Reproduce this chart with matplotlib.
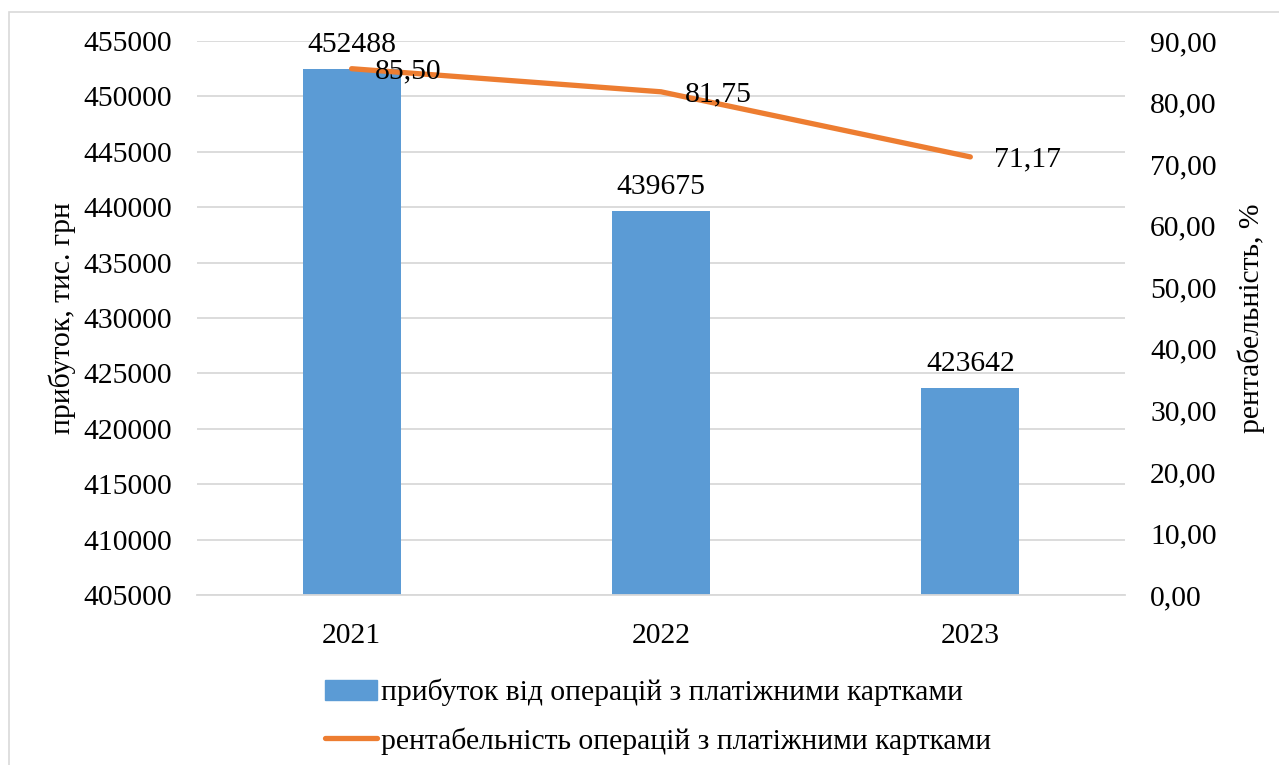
import matplotlib
matplotlib.use("Agg")
import matplotlib.pyplot as plt
from matplotlib.patches import Rectangle
from matplotlib.lines import Line2D
import numpy as np

years = ["2021", "2022", "2023"]
profit = [452488, 439675, 423642]
profitability = [85.50, 81.75, 71.17]
profit_ticks = list(range(405000, 455001, 5000))
pct_ticks = list(range(0, 91, 10))

bar_label = "прибуток від операцій з платіжними картками"
line_label = "рентабельність операцій з платіжними картками"

plt.rcParams['font.family'] = ['Liberation Serif', 'DejaVu Serif']
FS = 21.3

fig = plt.figure(figsize=(12.79, 7.65), dpi=100)
ax = fig.add_axes([0.154, 0.2222, 0.7256, 0.7242])
x = np.arange(len(years))
bars = ax.bar(x, profit, width=0.317, color="#5B9BD5", zorder=2)
ax.set_ylim(405000, 455000)
ax.set_xlim(-0.5, 2.5)
ax.set_yticks(profit_ticks)
ax.set_yticklabels([str(v) for v in profit_ticks], fontsize=FS)
ax.set_xticks(x)
ax.set_xticklabels(years, fontsize=FS)
ax.tick_params(axis='both', length=0)
ax.tick_params(axis='y', pad=18)
ax.tick_params(axis='x', pad=20)
ax.grid(axis='y', color="#D9D9D9", linewidth=1.3, zorder=0)
ax.set_axisbelow(True)
for s in ["top", "right", "left"]:
    ax.spines[s].set_visible(False)
ax.spines["bottom"].set_color("#D9D9D9")
ax.spines["bottom"].set_linewidth(1.3)
ax.set_ylabel("прибуток, тис. грн", fontsize=FS, labelpad=5)

for xi, v in zip(x, profit):
    ax.annotate(str(v), (xi, v), xytext=(0, 8), textcoords="offset points",
                ha="center", va="bottom", fontsize=FS)

ax2 = ax.twinx()
ax2.set_ylim(0, 90)
ax2.set_yticks(pct_ticks)
ax2.set_yticklabels([f"{v:.2f}".replace(".", ",") for v in pct_ticks], fontsize=FS)
ax2.tick_params(axis='y', length=0, pad=18)
for s in ["top", "right", "left", "bottom"]:
    ax2.spines[s].set_visible(False)
ax2.plot(x, profitability, color="#ED7D31", linewidth=3.8, solid_capstyle="round", zorder=3)
for xi, v in zip(x, profitability):
    ax2.annotate(f"{v:.2f}".replace(".", ","), (xi, v), xytext=(17, -2),
                 textcoords="offset points", ha="left", va="center", fontsize=FS)
ax2.set_ylabel("рентабельність, %", fontsize=FS, labelpad=15)

handles = [Rectangle((0, 0), 1, 1, color="#5B9BD5"),
           Line2D([0], [0], color="#ED7D31", linewidth=3.8, solid_capstyle="round")]
fig.legend(handles, [bar_label, line_label], loc="upper left",
           bbox_to_anchor=(0.245, 0.128), frameon=False, fontsize=FS,
           handlelength=1.75, handletextpad=0.15, labelspacing=0.7, borderaxespad=0)

border = Rectangle((9 / 1279, -0.05), 1.2, 1 - 12 / 765 + 0.05, transform=fig.transFigure,
                   fill=False, edgecolor="#D9D9D9", linewidth=1.2, clip_on=False)
fig.patches.append(border)

fig.savefig("out.png", dpi=100)
